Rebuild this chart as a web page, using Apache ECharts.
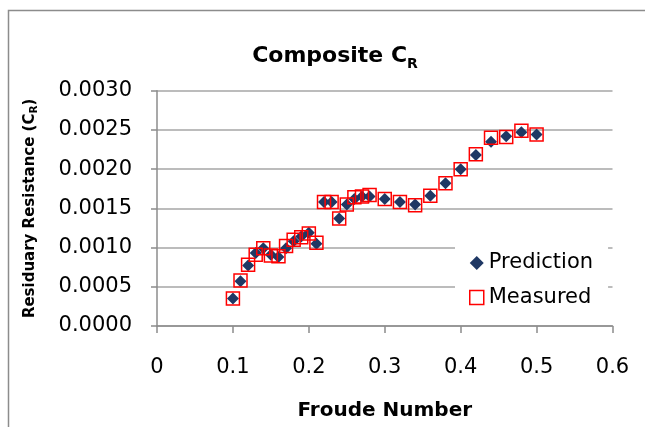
<!DOCTYPE html>
<html><head><meta charset="utf-8">
<script src="https://cdn.jsdelivr.net/npm/echarts@6/dist/echarts.min.js"></script>
<style>html,body{margin:0;padding:0;background:#fff}#c{width:645px;height:427px}</style>
</head><body><div id="c"></div>
<script>
const froude = [0.10,0.11,0.12,0.13,0.14,0.15,0.16,0.17,0.18,0.19,0.20,0.21,0.22,0.23,0.24,0.25,0.26,0.27,0.28,0.30,0.32,0.34,0.36,0.38,0.40,0.42,0.44,0.46,0.48,0.50];
const prediction = [0.00035,0.00057,0.00077,0.00093,0.00099,0.00091,0.00088,0.00099,0.00108,0.00114,0.00119,0.00105,0.00158,0.00158,0.00137,0.00155,0.00162,0.00165,0.00165,0.00162,0.00158,0.00155,0.00166,0.00182,0.00200,0.00218,0.00235,0.00242,0.00247,0.00244];
const measured = [0.00035,0.00058,0.00078,0.00091,0.00099,0.00090,0.00089,0.00102,0.00110,0.00113,0.00118,0.00106,0.00158,0.00158,0.00137,0.00155,0.00164,0.00165,0.00167,0.00162,0.00158,0.00154,0.00166,0.00182,0.00200,0.00219,0.00240,0.00241,0.00249,0.00244];
const xTicks = [0,0.1,0.2,0.3,0.4,0.5,0.6];
const yTicks = [0,0.0005,0.001,0.0015,0.002,0.0025,0.003];

const font = '"DejaVu Sans", sans-serif';
const chart = echarts.init(document.getElementById('c'));
chart.setOption({
  animation:false,
  backgroundColor:'#fff',
  graphic:[{type:'rect',left:6,top:8,shape:{x:0,y:0,width:700,height:480},style:{fill:'none',stroke:'#8c8c8c',lineWidth:1.5},silent:true,z:-1}],
  title:{
    text:'{m|Composite C}{s|R}',left:330,top:36,textAlign:'center',
    textStyle:{rich:{
      m:{fontSize:22,fontWeight:'bold',fontFamily:font,color:'#000'},
      s:{fontSize:14,fontWeight:'bold',fontFamily:font,color:'#000',verticalAlign:'bottom',padding:[16,0,0,0]}
    }}
  },
  grid:{left:157,right:32.5,top:90.7,bottom:101},
  xAxis:{
    type:'value',min:0,max:0.6,interval:0.1,
    name:'Froude Number',nameLocation:'middle',nameGap:75,
    nameTextStyle:{fontSize:20,fontWeight:'bold',fontFamily:font,color:'#000'},
    axisLine:{show:true,lineStyle:{color:'#8c8c8c',width:1.5}},
    axisTick:{show:true,length:7,lineStyle:{color:'#8c8c8c',width:1.5}},
    axisLabel:{fontSize:21,fontFamily:font,color:'#000',margin:31,formatter:v=>xTicks.includes(+v.toFixed(1))?String(+v.toFixed(1)):''},
    splitLine:{show:false}
  },
  yAxis:{
    type:'value',min:0,max:0.003,interval:0.0005,
    name:'{m|Residuary Resistance (C}{s|R}{m|)}',nameLocation:'middle',nameGap:117,
    nameTextStyle:{rich:{
      m:{fontSize:15,fontWeight:'bold',fontFamily:font,color:'#000'},
      s:{fontSize:10.5,fontWeight:'bold',fontFamily:font,color:'#000',verticalAlign:'bottom',padding:[8,0,0,0]}
    }},
    axisLine:{show:true,lineStyle:{color:'#8c8c8c',width:1.5}},
    axisTick:{show:true,length:6,lineStyle:{color:'#8c8c8c',width:1.5}},
    axisLabel:{fontSize:21,fontFamily:font,color:'#000',margin:25,formatter:v=>v.toFixed(4)},
    splitLine:{show:true,lineStyle:{color:'#a6a6a6',width:1.5}}
  },
  legend:{
    orient:'vertical',left:455,top:230,padding:[22,15,11,14],
    backgroundColor:'#fff',itemGap:12.5,itemWidth:14,itemHeight:14,
    textStyle:{fontSize:21,lineHeight:22,fontFamily:font,color:'#000'},
    data:[
      {name:'Prediction',icon:'diamond',itemStyle:{color:'#1f3864'}},
      {name:'Measured',icon:'rect',itemStyle:{color:'#fff',borderColor:'#ff0000',borderWidth:1.5}}
    ]
  },
  series:[
    {name:'Prediction',type:'scatter',symbol:'diamond',symbolSize:12,
     itemStyle:{color:'#1f3864',opacity:1},
     data:froude.map((x,i)=>[x,prediction[i]])},
    {name:'Measured',type:'scatter',symbol:'rect',symbolSize:13,
     itemStyle:{color:'rgba(0,0,0,0)',borderColor:'#ff0000',borderWidth:1.5,opacity:1},
     data:froude.map((x,i)=>[x,measured[i]])}
  ]
});
</script></body></html>
